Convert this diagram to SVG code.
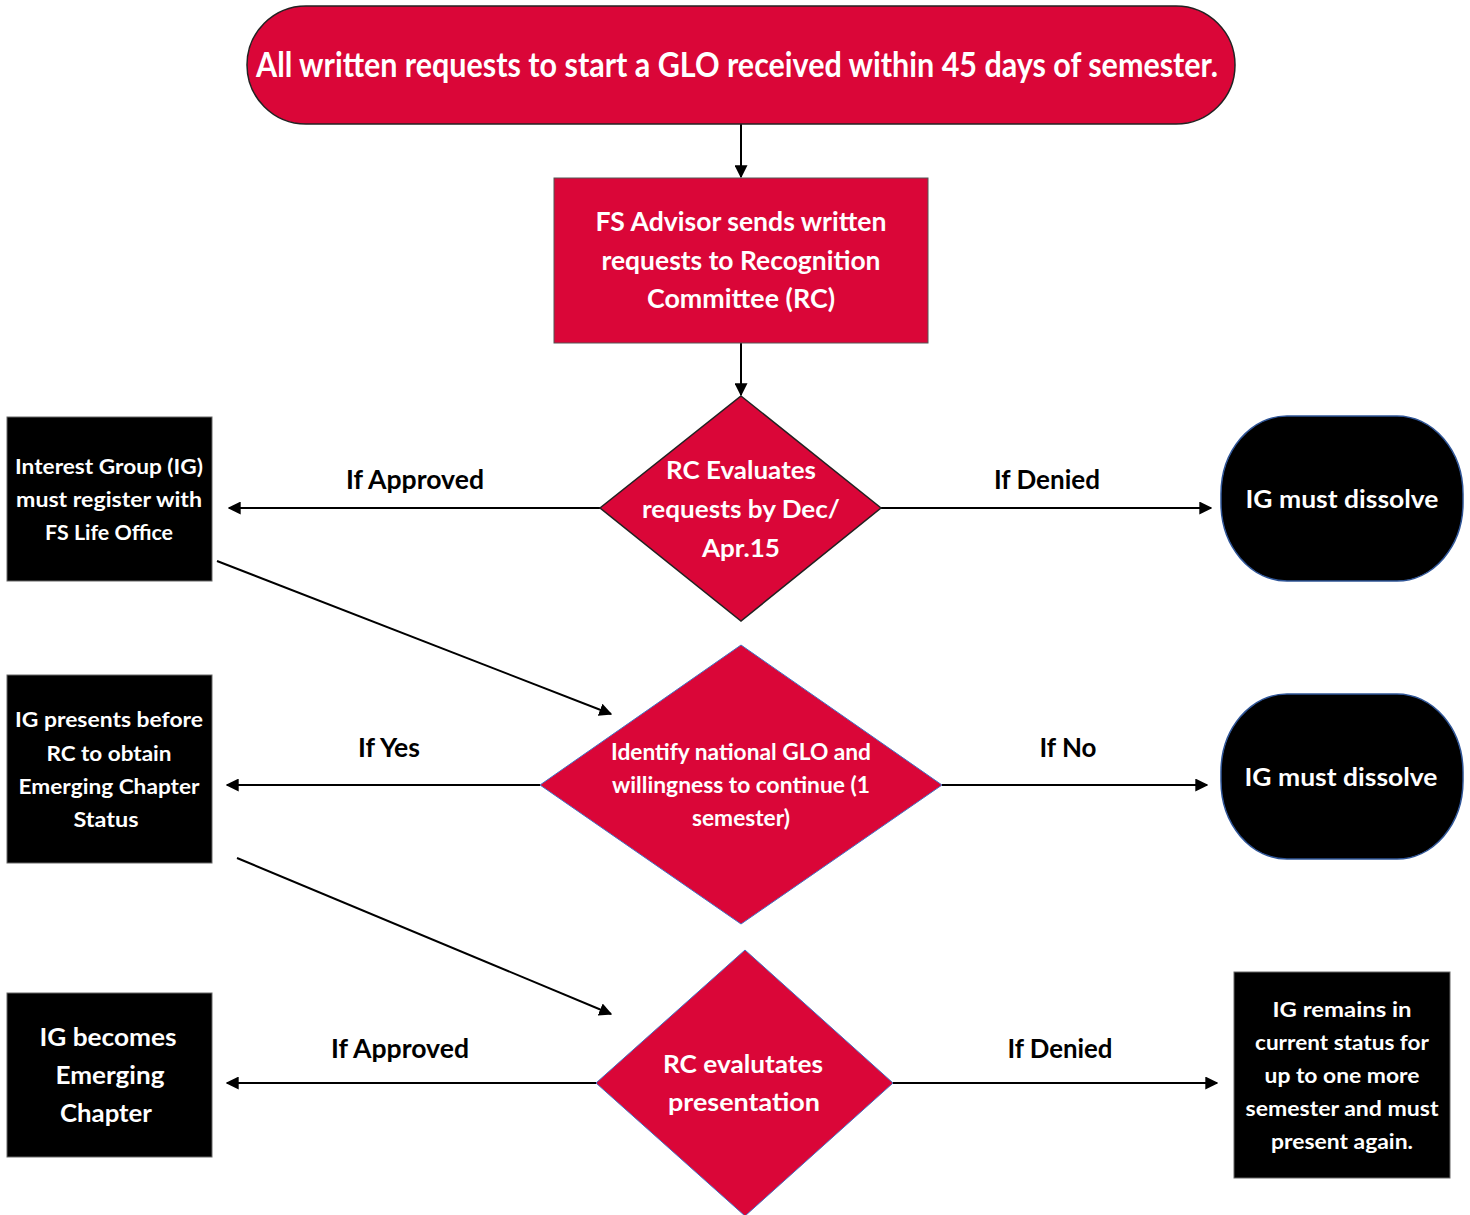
<svg xmlns="http://www.w3.org/2000/svg" width="1470" height="1215" viewBox="0 0 1470 1215">
<style>
text{font-family:Lato,"Liberation Sans",sans-serif;font-weight:bold;text-anchor:middle}
.w{fill:#fff}
.lbl{fill:#000;font-size:26px}
.red{fill:#DA0638}
.blk{fill:#000}
.conn{stroke:#000;stroke-width:2;fill:none;marker-end:url(#ah)}
</style>
<defs>
<marker id="ah" viewBox="0 0 10 10" refX="9" refY="5" markerWidth="6.5" markerHeight="6.5" markerUnits="strokeWidth" orient="auto">
<path d="M0,0 L10,5 L0,10 z" fill="#000"/>
</marker>
</defs>
<g id="connectors">
<line class="conn" x1="741" y1="124" x2="741" y2="177"/>
<line class="conn" x1="741" y1="343" x2="741" y2="395"/>
<line class="conn" x1="600" y1="508" x2="229" y2="508"/>
<line class="conn" x1="881" y1="508" x2="1211" y2="508"/>
<line class="conn" x1="217" y1="561" x2="611" y2="714"/>
<line class="conn" x1="540" y1="785" x2="227" y2="785"/>
<line class="conn" x1="942" y1="785" x2="1207" y2="785"/>
<line class="conn" x1="237" y1="858" x2="611" y2="1014"/>
<line class="conn" x1="596" y1="1083" x2="227" y2="1083"/>
<line class="conn" x1="893" y1="1083" x2="1217" y2="1083"/>
<text class="lbl" x="415" y="489" textLength="138" lengthAdjust="spacingAndGlyphs">If Approved</text>
<text class="lbl" x="1047" y="489" textLength="106" lengthAdjust="spacingAndGlyphs">If Denied</text>
<text class="lbl" x="389" y="757" textLength="62" lengthAdjust="spacingAndGlyphs">If Yes</text>
<text class="lbl" x="1068" y="757" textLength="57" lengthAdjust="spacingAndGlyphs">If No</text>
<text class="lbl" x="400" y="1058" textLength="138" lengthAdjust="spacingAndGlyphs">If Approved</text>
<text class="lbl" x="1060" y="1058" textLength="105" lengthAdjust="spacingAndGlyphs">If Denied</text>
</g>
<g id="start">
<rect class="red" x="247" y="6" width="988" height="118" rx="59" ry="59" stroke="#222" stroke-width="1.5"/>
<text class="w" x="737" y="77" font-size="35" textLength="962" lengthAdjust="spacingAndGlyphs">All written requests to start a GLO received within 45 days of semester.</text>
</g>
<g id="advisor">
<rect class="red" x="554" y="178" width="374" height="165" stroke="#555" stroke-width="1"/>
<text class="w" font-size="26" x="741" y="231" textLength="291" lengthAdjust="spacingAndGlyphs">FS Advisor sends written</text>
<text class="w" font-size="26" x="741" y="270" textLength="279" lengthAdjust="spacingAndGlyphs">requests to Recognition</text>
<text class="w" font-size="26" x="741" y="308" textLength="188" lengthAdjust="spacingAndGlyphs">Committee (RC)</text>
</g>
<g id="decision1">
<polygon class="red" points="741,396 881,508 741,621 600,508" stroke="#222" stroke-width="1.5"/>
<text class="w" font-size="25" x="741" y="479" textLength="150" lengthAdjust="spacingAndGlyphs">RC Evaluates</text>
<text class="w" font-size="25" x="741" y="518" textLength="198" lengthAdjust="spacingAndGlyphs">requests by Dec/</text>
<text class="w" font-size="25" x="741" y="557" textLength="78" lengthAdjust="spacingAndGlyphs">Apr.15</text>
</g>
<g id="register">
<rect class="blk" x="7" y="417" width="205" height="164" stroke="#666" stroke-width="1"/>
<text class="w" font-size="21" x="109" y="474" textLength="188" lengthAdjust="spacingAndGlyphs">Interest Group (IG)</text>
<text class="w" font-size="21" x="109" y="507" textLength="186" lengthAdjust="spacingAndGlyphs">must register with</text>
<text class="w" font-size="21" x="109" y="540" textLength="128" lengthAdjust="spacingAndGlyphs">FS Life Office</text>
</g>
<g id="dissolve1">
<rect class="blk" x="1221" y="416" width="242" height="165" rx="66" ry="78" stroke="#2F5597" stroke-width="1.5"/>
<text class="w" font-size="25" x="1342" y="508" textLength="193" lengthAdjust="spacingAndGlyphs">IG must dissolve</text>
</g>
<g id="decision2">
<polygon class="red" points="741,645 942,785 741,924 540,785" stroke="#4472C4" stroke-width="1"/>
<text class="w" font-size="23" x="741" y="760" textLength="260" lengthAdjust="spacingAndGlyphs">Identify national GLO and</text>
<text class="w" font-size="23" x="741" y="793" textLength="258" lengthAdjust="spacingAndGlyphs">willingness to continue (1</text>
<text class="w" font-size="23" x="741" y="826" textLength="98" lengthAdjust="spacingAndGlyphs">semester)</text>
</g>
<g id="presents">
<rect class="blk" x="7" y="675" width="205" height="188" stroke="#666" stroke-width="1"/>
<text class="w" font-size="21" x="109" y="727" textLength="188" lengthAdjust="spacingAndGlyphs">IG presents before</text>
<text class="w" font-size="21" x="109" y="761" textLength="125" lengthAdjust="spacingAndGlyphs">RC to obtain</text>
<text class="w" font-size="21" x="109" y="794" textLength="181" lengthAdjust="spacingAndGlyphs">Emerging Chapter</text>
<text class="w" font-size="21" x="106" y="827" textLength="65" lengthAdjust="spacingAndGlyphs">Status</text>
</g>
<g id="dissolve2">
<rect class="blk" x="1221" y="694" width="242" height="165" rx="66" ry="78" stroke="#2F5597" stroke-width="1.5"/>
<text class="w" font-size="25" x="1341" y="786" textLength="193" lengthAdjust="spacingAndGlyphs">IG must dissolve</text>
</g>
<g id="decision3">
<polygon class="red" points="745,950 893,1083 745,1216 596,1083" stroke="#4472C4" stroke-width="1"/>
<text class="w" font-size="25" x="743" y="1073" textLength="160" lengthAdjust="spacingAndGlyphs">RC evalutates</text>
<text class="w" font-size="25" x="744" y="1111" textLength="152" lengthAdjust="spacingAndGlyphs">presentation</text>
</g>
<g id="emerging">
<rect class="blk" x="7" y="993" width="205" height="164" stroke="#666" stroke-width="1"/>
<text class="w" font-size="24" x="108" y="1046" textLength="137" lengthAdjust="spacingAndGlyphs">IG becomes</text>
<text class="w" font-size="24" x="110" y="1084" textLength="109" lengthAdjust="spacingAndGlyphs">Emerging</text>
<text class="w" font-size="24" x="106" y="1122" textLength="92" lengthAdjust="spacingAndGlyphs">Chapter</text>
</g>
<g id="remains">
<rect class="blk" x="1234" y="972" width="216" height="206" stroke="#666" stroke-width="1"/>
<text class="w" font-size="21" x="1342" y="1017" textLength="139" lengthAdjust="spacingAndGlyphs">IG remains in</text>
<text class="w" font-size="21" x="1342" y="1050" textLength="174" lengthAdjust="spacingAndGlyphs">current status for</text>
<text class="w" font-size="21" x="1342" y="1083" textLength="155" lengthAdjust="spacingAndGlyphs">up to one more</text>
<text class="w" font-size="21" x="1342" y="1116" textLength="193" lengthAdjust="spacingAndGlyphs">semester and must</text>
<text class="w" font-size="21" x="1342" y="1149" textLength="142" lengthAdjust="spacingAndGlyphs">present again.</text>
</g>
</svg>
